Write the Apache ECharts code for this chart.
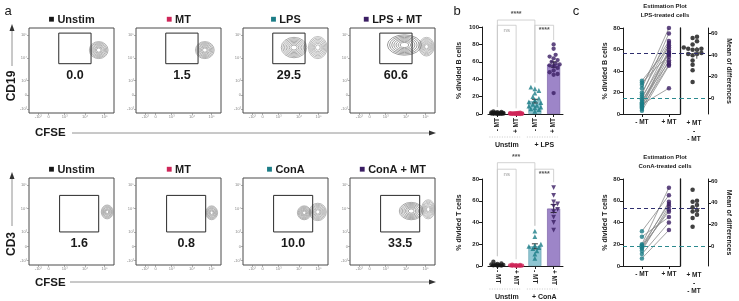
<!DOCTYPE html>
<html>
<head>
<meta charset="utf-8">
<script src="https://cdn.jsdelivr.net/npm/echarts@6.0.0/dist/echarts.min.js"></script>
<style>
    html, body { margin: 0; padding: 0; background: #fff; }
    #chart { width: 739px; height: 301px; }
</style>
</head>
<body>
<div id="chart"></div>
<script>
    // ---------- data ----------
    // panel a : flow plots (gate %, populations as [cx, cy, rx, ry] in axis %)
    var flowTitlesB = ['Unstim', 'MT', 'LPS', 'LPS + MT'];
    var flowTitlesT = ['Unstim', 'MT', 'ConA', 'ConA + MT'];
    var flowPctB = ['0.0', '1.5', '29.5', '60.6'];
    var flowPctT = ['1.6', '0.8', '10.0', '33.5'];
    var popsB = [
        [[82, 74, 11, 10]],
        [[81, 74, 11, 10]],
        [[88, 77, 11, 13], [60, 77, 15, 12]],
        [[90, 78, 9, 11], [64, 80, 20, 12]]
    ];
    var popsT = [
        [[92, 61, 7, 8]],
        [[89, 60, 7, 8]],
        [[88, 61, 10, 10], [72, 60, 8, 8]],
        [[92, 64, 8, 11], [72, 62, 14, 10]]
    ];
    var gateB = [35, 58, 73, 94];
    var gateT = [36, 38, 82, 80];
    var flowTickLabels = ['-10³', '0', '10³', '10⁴', '10⁵'];
    var flowTicksX = [11, 23, 42, 66, 89];
    var flowTicksY = [5, 21, 38, 65, 92];

    // panel b / c : % divided cells, paired per donor
    var catLabels = ['- MT', '+ MT', '- MT', '+ MT'];
    var bUnstimMinus = [3.0, 2.4, 2.0, 1.8, 1.5, 1.3, 1.1, 1.0, 0.9, 0.8, 0.6, 0.5, 0.4, 0.3, 0.2, 0.1, 0.0];
    var bUnstimPlus = [1.5, 1.2, 1.0, 0.9, 0.8, 0.7, 0.6, 0.5, 0.5, 0.4, 0.3, 0.3, 0.2, 0.1, 0.1, 0.0, 0.0];
    var bLpsMinus = [31, 29, 27, 24, 20, 18, 16, 14, 13, 11, 10, 9, 8, 7, 6, 5, 3];
    var bLpsPlus = [62, 55, 68, 80, 66, 75, 57, 64, 48, 58, 56, 24, 53, 60, 46, 50, 45];
    var tUnstimMinus = [4.0, 2.5, 2.0, 1.5, 1.2, 1.0, 0.8, 0.5, 0.3, 0.2];
    var tUnstimPlus = [1.2, 1.0, 0.8, 0.6, 0.5, 0.4, 0.3, 0.2, 0.1, 0.0];
    var tConMinus = [32, 27, 20, 19, 18, 17, 16, 14, 11, 7];
    var tConPlus = [65, 45, 72, 57, 50, 59, 52, 55, 40, 33];
    var bBrackets = [[0, 2, 108, '****'], [0, 1, 102, 'ns'], [2, 3, 102, '****']];
    var tBrackets = [[0, 2, 95, '***'], [0, 1, 89, 'ns'], [2, 3, 89, '****']];

    // ---------- style ----------
    var FONT = '"Liberation Sans", Arial, Helvetica, sans-serif';
    var C_BLACK = '#161616', C_RED = '#cf2659', C_TEAL = '#1c7d87', C_PURPLE = '#3a1d63';
    var barFill = ['#222222', '#e2608a', '#8fc6d2', '#9d85c8'];
    var barEdge = ['#111111', '#b01e4c', '#5f9fad', '#6f55a0'];

    var grids = [], xAxes = [], yAxes = [], series = [], graphics = [];

    function mean(a) { return a.reduce(function (s, v) { return s + v; }, 0) / a.length; }
    function sd(a) {
        var m = mean(a);
        return Math.sqrt(a.reduce(function (s, v) { return s + (v - m) * (v - m); }, 0) / (a.length - 1));
    }
    function maxOf(a) { return Math.max.apply(null, a); }

    // simple deterministic beeswarm, returns px offsets (kept within +-maxDx)
    function swarm(vals, ppu, d, maxDx) {
        var order = vals.map(function (v, i) { return i; }).sort(function (a, b) { return vals[a] - vals[b]; });
        var placed = [], off = [];
        order.forEach(function (i) {
            var y = vals[i] * ppu;
            var best = 0, bestGap = -1;
            for (var k = 0; k < 60; k++) {
                var dx = (k % 2 ? 1 : -1) * Math.ceil(k / 2) * d * 0.5 + 0;
                if (Math.abs(dx) > maxDx) break;
                var gap = placed.reduce(function (g, p) {
                    var ex = dx - p[0], ey = y - p[1];
                    return Math.min(g, ex * ex + ey * ey);
                }, 1e9);
                if (gap >= d * d * 0.8) { best = dx; bestGap = gap; break; }
                if (gap > bestGap) { best = dx; bestGap = gap; }
            }
            off[i] = best;
            placed.push([best, y]);
        });
        return off;
    }

    function gText(x, y, text, size, opt) {
        opt = opt || {};
        graphics.push({
            type: 'text', x: x, y: y, rotation: opt.rot || 0, z: 100,
            style: {
                text: text, x: 0, y: 0,
                font: (opt.weight || 'bold') + ' ' + size + 'px ' + FONT,
                fill: opt.color || '#1a1a1a',
                align: opt.align || 'center', verticalAlign: 'middle',
                textAlign: opt.align || 'center', textVerticalAlign: 'middle',
                rich: opt.rich
            }
        });
    }
    function gLine(x1, y1, x2, y2, color, width, dash) {
        graphics.push({
            type: 'line', z: 100, shape: { x1: x1, y1: y1, x2: x2, y2: y2 },
            style: { stroke: color, lineWidth: width, lineDash: dash || null }
        });
    }
    function gTri(pts) {
        graphics.push({ type: 'polygon', z: 100, shape: { points: pts }, style: { fill: '#333' } });
    }

    // ---------- panel a ----------
    var flowLefts = [29, 136, 243, 350];
    var FLOW_W = 85;
    var titleColors = [C_BLACK, C_RED, C_TEAL, C_PURPLE];

    function ringItem(params, api) {
        var c = api.coord([api.value(0), api.value(1)]);
        var s = api.size([api.value(2), api.value(3)]);
        var kids = [];
        var n = 7;
        for (var k = 1; k <= n; k++) {
            var f = 0.12 + 0.88 * k / n;
            kids.push({
                type: 'circle', x: c[0], y: c[1], scaleX: s[0] / s[1],
                shape: { cx: 0, cy: 0, r: s[1] * f },
                style: { fill: 'none', stroke: '#858585', lineWidth: 0.6, strokeNoScale: true }
            });
        }
        return { type: 'group', children: kids };
    }
    function gateItem(params, api) {
        var p1 = api.coord([api.value(0), api.value(1)]);
        var p2 = api.coord([api.value(2), api.value(3)]);
        return {
            type: 'rect',
            shape: { x: p1[0], y: p2[1], width: p2[0] - p1[0], height: p1[1] - p2[1] },
            style: { fill: 'none', stroke: '#2a2a2a', lineWidth: 1 }
        };
    }
    function flowAxis(gi, ticks) {
        return {
            gridIndex: gi, type: 'value', min: 0, max: 100,
            axisLine: { show: false, onZero: false }, splitLine: { show: false },
            axisTick: { show: true, length: 2, customValues: ticks, lineStyle: { color: '#777', width: 0.6 } },
            axisLabel: {
                show: true, customValues: ticks, fontSize: 4, color: '#888', margin: 2,
                formatter: function (v) { return flowTickLabels[ticks.indexOf(v)] || ''; }
            }
        };
    }
    function addFlow(left, top, h, pops, gate, pct, title, color) {
        var gi = grids.length;
        grids.push({ left: left, top: top, width: FLOW_W, height: h, show: true, borderColor: '#4a4a4a', borderWidth: 1 });
        xAxes.push(flowAxis(gi, flowTicksX));
        yAxes.push(flowAxis(gi, flowTicksY));
        series.push({ type: 'custom', xAxisIndex: gi, yAxisIndex: yAxes.length - 1, renderItem: ringItem, data: pops, silent: true });
        series.push({ type: 'custom', xAxisIndex: gi, yAxisIndex: yAxes.length - 1, renderItem: gateItem, data: [gate], silent: true });
        gText(left + FLOW_W * (gate[0] + gate[2]) / 200, top + h * (1 - gate[1] / 100) + 12, pct, 12.5);
        gText(left + FLOW_W / 2, top - 8.5, '{sq|■} ' + title, 11, {
            rich: { sq: { fill: color, color: color, font: 'bold 10px ' + FONT } }
        });
    }
    for (var i = 0; i < 4; i++) {
        addFlow(flowLefts[i], 28, 85, popsB[i], gateB, flowPctB[i], flowTitlesB[i], titleColors[i]);
    }
    for (var j = 0; j < 4; j++) {
        addFlow(flowLefts[j], 178, 87, popsT[j], gateT, flowPctT[j], flowTitlesT[j], titleColors[j]);
    }
    // axis names and arrows of panel a
    gText(35, 133, 'CFSE', 11.5, { align: 'left' });
    gLine(72, 133, 430, 133, '#777', 0.8);
    gTri([[436, 133], [429, 130.5], [429, 135.5]]);
    gText(35, 283, 'CFSE', 11.5, { align: 'left' });
    gLine(70, 282, 430, 282, '#777', 0.8);
    gTri([[436, 282], [429, 279.5], [429, 284.5]]);
    gText(12, 86, 'CD19', 12, { rot: Math.PI / 2 });
    gLine(12, 66, 12, 30, '#777', 0.8);
    gTri([[12, 24], [9.5, 31], [14.5, 31]]);
    gText(12, 244, 'CD3', 12, { rot: Math.PI / 2 });
    gLine(12, 226, 12, 178, '#777', 0.8);
    gTri([[12, 172], [9.5, 179], [14.5, 179]]);
    gText(8, 11, 'a', 13, { weight: 'normal' });
    gText(457, 11, 'b', 13, { weight: 'normal' });
    gText(576, 11, 'c', 13, { weight: 'normal' });

    // ---------- panel b ----------
    var BAR_LEFT = 488, BAR_W = 75;
    function catX(i) { return BAR_LEFT + BAR_W * (i + 0.5) / 4; }

    function bracketItem(labels) {
        return function (params, api) {
            var a = api.coord([api.value(0), api.value(2)]);
            var b = api.coord([api.value(1), api.value(2)]);
            var ea = api.coord([api.value(0), api.value(3)]);
            var eb = api.coord([api.value(1), api.value(4)]);
            var dy = params.dataIndex === 0 ? -6 : 5;
            return {
                type: 'group', children: [
                    {
                        type: 'polyline',
                        shape: { points: [[a[0], ea[1]], a, b, [b[0], eb[1]]] },
                        style: { fill: 'none', stroke: '#c6c6c6', lineWidth: 0.8 }
                    },
                    {
                        type: 'text', x: (a[0] + b[0]) / 2, y: a[1] + dy,
                        style: {
                            text: labels[params.dataIndex], fill: labels[params.dataIndex] === 'ns' ? '#999' : '#555',
                            font: (labels[params.dataIndex] === 'ns' ? 'normal 6px ' : 'bold 7px ') + FONT,
                            align: 'center', verticalAlign: 'middle'
                        }
                    }
                ]
            };
        };
    }
    function errItem(params, api) {
        var lo = api.coord([api.value(0), api.value(1)]);
        var hi = api.coord([api.value(0), api.value(2)]);
        var w = 3;
        return {
            type: 'group', children: [
                { type: 'line', shape: { x1: lo[0], y1: lo[1], x2: hi[0], y2: hi[1] }, style: { stroke: '#222', lineWidth: 0.9 } },
                { type: 'line', shape: { x1: hi[0] - w, y1: hi[1], x2: hi[0] + w, y2: hi[1] }, style: { stroke: '#222', lineWidth: 0.9 } },
                { type: 'line', shape: { x1: lo[0] - w, y1: lo[1], x2: lo[0] + w, y2: lo[1] }, style: { stroke: '#222', lineWidth: 0.9 } }
            ]
        };
    }

    function addBars(top, h, ymax, groups, yName, brackets, groupName, rot, lastSymbol) {
        var gi = grids.length;
        var ppu = h / ymax;
        grids.push({ left: BAR_LEFT, top: top, width: BAR_W, height: h });
        xAxes.push({
            gridIndex: gi, type: 'category', data: catLabels,
            axisLine: { show: true, onZero: false, lineStyle: { color: '#1a1a1a', width: 1 } },
            axisTick: { show: true, alignWithLabel: true, length: 3, lineStyle: { color: '#1a1a1a' } },
            axisLabel: { rotate: rot, fontSize: 6.5, fontWeight: 'bold', color: '#222', margin: 4 }
        });
        yAxes.push({
            gridIndex: gi, type: 'value', min: 0, max: ymax, interval: 20, offset: 6,
            splitLine: { show: false },
            axisLine: { show: true, onZero: false, lineStyle: { color: '#1a1a1a', width: 1 } },
            axisTick: { show: true, length: 3, lineStyle: { color: '#1a1a1a' } },
            axisLabel: { fontSize: 6, fontWeight: 'bold', color: '#222', margin: 3 },
            name: yName, nameLocation: 'middle', nameGap: 19,
            nameTextStyle: { fontSize: 7, fontWeight: 'bold', color: '#222' }
        });
        var yi = yAxes.length - 1;
        var means = groups.map(mean);
        series.push({
            type: 'bar', xAxisIndex: gi, yAxisIndex: yi, barWidth: 13, z: 2, silent: true,
            data: means.map(function (m, k) {
                return { value: m, itemStyle: { color: barFill[k], borderColor: barEdge[k], borderWidth: 0.6 } };
            })
        });
        series.push({
            type: 'custom', xAxisIndex: gi, yAxisIndex: yi, z: 3, silent: true, renderItem: errItem,
            data: groups.map(function (g, k) {
                var sem = sd(g) / Math.sqrt(g.length);
                return [k, means[k] - sem, means[k] + sem];
            })
        });
        var symbols = ['circle', 'circle', 'triangle', lastSymbol];
        var colors = [C_BLACK, C_RED, C_TEAL, C_PURPLE];
        groups.forEach(function (g, k) {
            var off = swarm(g, ppu, 4, 6.5);
            series.push({
                type: 'scatter', xAxisIndex: gi, yAxisIndex: yi, z: 4, silent: true,
                symbol: symbols[k] === 'down' ? 'triangle' : symbols[k],
                symbolRotate: symbols[k] === 'down' ? 180 : 0,
                symbolSize: symbols[k] === 'circle' ? 4.3 : 4.8,
                itemStyle: { color: colors[k] },
                data: g.map(function (v, n) { return { value: [k, v], symbolOffset: [off[n], 0] }; })
            });
        });
        var labels = brackets.map(function (b) { return b[3]; });
        series.push({
            type: 'custom', xAxisIndex: gi, yAxisIndex: yi, z: 1, silent: true, clip: false,
            renderItem: bracketItem(labels),
            data: brackets.map(function (b) {
                return [b[0], b[1], b[2], maxOf(groups[b[0]]) + 5, maxOf(groups[b[1]]) + 5];
            })
        });
        // group labels under the axis
        var ly = top + h + 23, ty = top + h + 31;
        gLine(catX(0) - 8, ly, catX(1) + 4, ly, '#bbb', 0.8, [1, 1.5]);
        gLine(catX(2) - 8, ly, catX(3) + 4, ly, '#bbb', 0.8, [1, 1.5]);
        gText((catX(0) + catX(1)) / 2, ty, 'Unstim', 7);
        gText((catX(2) + catX(3)) / 2, ty, groupName, 7);
    }
    addBars(27, 87, 100, [bUnstimMinus, bUnstimPlus, bLpsMinus, bLpsPlus], '% divided B cells', bBrackets, '+ LPS', 90, 'circle');
    addBars(179, 87, 80, [tUnstimMinus, tUnstimPlus, tConMinus, tConPlus], '% divided T cells', tBrackets, '+ ConA', -90, 'down');

    // ---------- panel c ----------
    var estLabels = { 0: '- MT', 1: '+ MT' };
    function pairItem(params, api) {
        var p0 = api.coord([0, api.value(0)]);
        var p1 = api.coord([1, api.value(1)]);
        return { type: 'line', shape: { x1: p0[0], y1: p0[1], x2: p1[0], y2: p1[1] }, style: { stroke: '#8a8a8a', lineWidth: 0.8 } };
    }
    function ciItem(params, api) {
        var lo = api.coord([api.value(0), api.value(1)]);
        var hi = api.coord([api.value(0), api.value(2)]);
        var mid = api.coord([api.value(0), api.value(3)]);
        return {
            type: 'group', children: [
                { type: 'line', shape: { x1: lo[0], y1: lo[1], x2: hi[0], y2: hi[1] }, style: { stroke: '#555', lineWidth: 1 } },
                { type: 'line', shape: { x1: mid[0] - 3, y1: mid[1], x2: mid[0] + 3, y2: mid[1] }, style: { stroke: '#555', lineWidth: 1 } }
            ]
        };
    }
    function axisBase(extra) {
        var a = {
            splitLine: { show: false },
            axisLine: { show: true, onZero: false, lineStyle: { color: '#1a1a1a', width: 1 } },
            axisTick: { show: true, length: 3, lineStyle: { color: '#1a1a1a' } },
            axisLabel: { fontSize: 6, fontWeight: 'bold', color: '#222', margin: 3 }
        };
        for (var k in extra) a[k] = extra[k];
        return a;
    }
    function addEst(top, h, minus, plus, yName, title2) {
        var meanM = mean(minus), meanP = mean(plus);
        var diffs = plus.map(function (v, k) { return v - minus[k]; });
        var meanD = mean(diffs);
        var ci = (1.96 + 2.4 / (diffs.length - 1)) * sd(diffs) / Math.sqrt(diffs.length);

        var gl = grids.length;
        grids.push({ left: 623, top: top, width: 57, height: h });
        xAxes.push(axisBase({
            gridIndex: gl, type: 'value', min: -0.7, max: 1.41,
            axisTick: { show: true, length: 3, customValues: [0, 1], lineStyle: { color: '#1a1a1a' } },
            axisLabel: {
                customValues: [0, 1], fontSize: 6.5, fontWeight: 'bold', color: '#222', margin: 5,
                formatter: function (v) { return estLabels[v]; }
            }
        }));
        yAxes.push(axisBase({
            gridIndex: gl, type: 'value', min: 0, max: 80, interval: 20,
            name: yName, nameLocation: 'middle', nameGap: 14,
            nameTextStyle: { fontSize: 7, fontWeight: 'bold', color: '#222' }
        }));
        var yl = yAxes.length - 1;
        series.push({ type: 'custom', xAxisIndex: gl, yAxisIndex: yl, z: 2, silent: true, renderItem: pairItem,
            data: minus.map(function (m, k) { return [m, plus[k]]; }) });
        series.push({
            type: 'scatter', xAxisIndex: gl, yAxisIndex: yl, z: 3, silent: true, symbolSize: 4.5,
            itemStyle: { color: C_TEAL }, data: minus.map(function (v) { return [0, v]; }),
            markLine: { silent: true, symbol: 'none', label: { show: false },
                lineStyle: { color: '#2c8a8f', type: [4, 3], width: 1 }, data: [{ yAxis: meanM }] }
        });
        series.push({
            type: 'scatter', xAxisIndex: gl, yAxisIndex: yl, z: 3, silent: true, symbolSize: 4.5,
            itemStyle: { color: C_PURPLE }, data: plus.map(function (v) { return [1, v]; }),
            markLine: { silent: true, symbol: 'none', label: { show: false },
                lineStyle: { color: '#2f2f6e', type: [4, 3], width: 1 }, data: [{ yAxis: meanP }] }
        });

        var gr = grids.length;
        grids.push({ left: 680, top: top, width: 28, height: h });
        xAxes.push({
            gridIndex: gr, type: 'value', min: -1, max: 1,
            axisLine: { show: false, onZero: false }, axisTick: { show: false }, splitLine: { show: false },
            axisLabel: { customValues: [0], fontSize: 6.5, fontWeight: 'bold', color: '#222', margin: 5, lineHeight: 8,
                formatter: function () { return '+ MT\n-\n- MT'; } }
        });
        yAxes.push(axisBase({
            gridIndex: gr, type: 'value', position: 'right', min: -meanM, max: 80 - meanM,
            axisTick: { show: true, length: 3, customValues: [0, 20, 40, 60], lineStyle: { color: '#1a1a1a' } },
            axisLabel: { customValues: [0, 20, 40, 60], fontSize: 6, fontWeight: 'bold', color: '#222', margin: 3 },
            name: 'Mean of differences', nameLocation: 'middle', nameGap: 17, nameRotate: -90,
            nameTextStyle: { fontSize: 7, fontWeight: 'bold', color: '#222' }
        }));
        var yr = yAxes.length - 1;
        yAxes.push({
            gridIndex: gr, type: 'value', position: 'left', min: -meanM, max: 80 - meanM,
            axisLine: { show: true, onZero: false, lineStyle: { color: '#1a1a1a', width: 1.3 } },
            axisTick: { show: false }, axisLabel: { show: false }, splitLine: { show: false }
        });
        var off = swarm(diffs, h / 80, 4.4, 9);
        series.push({
            type: 'scatter', xAxisIndex: gr, yAxisIndex: yr, z: 3, silent: true, symbolSize: 4.5,
            itemStyle: { color: '#111' },
            data: diffs.map(function (d, k) { return { value: [-0.1, d], symbolOffset: [off[k], 0] }; }),
            markLine: { silent: true, symbol: 'none', label: { show: false },
                lineStyle: { type: [4, 3], width: 1 },
                data: [{ yAxis: 0, lineStyle: { color: '#2c8a8f' } }, { yAxis: meanD, lineStyle: { color: '#2f2f6e' } }] }
        });
        series.push({ type: 'custom', xAxisIndex: gr, yAxisIndex: yr, z: 4, silent: true, renderItem: ciItem,
            data: [[0.2, meanD - ci, meanD + ci, meanD]] });

        gText(665, top - 22, 'Estimation Plot', 6);
        gText(665, top - 13, title2, 6);
    }
    addEst(28, 86, bLpsMinus, bLpsPlus, '% divided B cells', 'LPS-treated cells');
    addEst(179, 87, tConMinus, tConPlus, '% divided T cells', 'ConA-treated cells');

    var chart = echarts.init(document.getElementById('chart'));
    chart.setOption({
        animation: false,
        backgroundColor: '#fff',
        textStyle: { fontFamily: FONT },
        grid: grids,
        xAxis: xAxes,
        yAxis: yAxes,
        series: series,
        graphic: graphics
    });
</script>
</body>
</html>
